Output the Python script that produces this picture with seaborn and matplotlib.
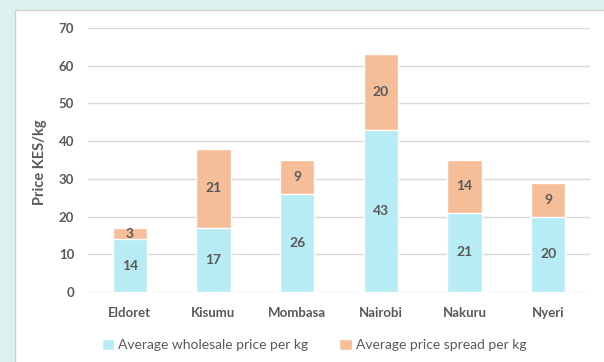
import pandas as pd
import matplotlib.pyplot as plt
import seaborn as sns
from matplotlib.patches import Rectangle, Patch

# chart data
towns = ['Eldoret', 'Kisumu', 'Mombasa', 'Nairobi', 'Nakuru', 'Nyeri']
wholesale = [14, 17, 26, 43, 21, 20]
spread = [3, 21, 9, 20, 14, 9]

df = pd.DataFrame({'town': towns, 'wholesale': wholesale, 'spread': spread})
df['total'] = df['wholesale'] + df['spread']

cyan = '#b8ecf4'
peach = '#f6be98'
txt = '#595959'

sns.set_theme(style='white')
plt.rcParams['font.family'] = ['Lato', 'DejaVu Sans']

fig = plt.figure(figsize=(6.04, 3.62), dpi=100)
fig.patch.set_facecolor('#ddf2f0')
# white chart panel behind the axes
fig.patches.append(Rectangle((15 / 604, -0.01), 1.0, 1 - 10 / 362 + 0.01, transform=fig.transFigure,
                             facecolor='white', edgecolor='#d0d0d0', linewidth=1, zorder=-5))

ax = fig.add_axes([88 / 604, 1 - 292 / 362, 502 / 604, 264 / 362])
ax.set_facecolor('none')
ax.set_zorder(1)

sns.barplot(data=df, x='town', y='total', color=peach, width=0.41, saturation=1, ax=ax, zorder=2)
sns.barplot(data=df, x='town', y='wholesale', color=cyan, width=0.41, saturation=1, ax=ax, zorder=3)

# segment labels
for i, row in df.iterrows():
    ax.text(i, row['wholesale'] / 2, str(row['wholesale']), ha='center', va='center',
            fontsize=10, fontweight='bold', color=txt, zorder=4)
    ax.text(i, row['wholesale'] + row['spread'] / 2, str(row['spread']), ha='center', va='center',
            fontsize=10, fontweight='bold', color=txt, zorder=4)

ax.set_ylim(0, 70)
ax.set_yticks(range(0, 71, 10))
ax.set_xlim(-0.5, 5.5)
ax.yaxis.grid(True, color='#d9d9d9', linewidth=1)
ax.set_axisbelow(True)
for s in ax.spines.values():
    s.set_visible(False)
ax.tick_params(axis='both', length=0, labelsize=9.5, colors=txt)
ax.tick_params(axis='x', pad=11)
ax.tick_params(axis='y', pad=10)
for lab in ax.get_xticklabels() + ax.get_yticklabels():
    lab.set_fontweight('bold')
ax.set_xlabel('')
ax.set_ylabel('Price KES/kg', fontsize=10.5, fontweight='bold', color=txt)
ax.yaxis.set_label_coords(-0.082, 0.49)

handles = [Patch(facecolor=cyan, label='Average wholesale price per kg'),
           Patch(facecolor=peach, label='Average price spread per kg')]
fig.legend(handles=handles, loc='center', bbox_to_anchor=(314 / 604, 1 - 345 / 362), ncol=2,
           frameon=False, prop={'size': 10}, labelcolor=txt, handlelength=0.9, handleheight=0.9,
           handletextpad=0.3, columnspacing=2.2)

plt.savefig('out.png', dpi=100)
